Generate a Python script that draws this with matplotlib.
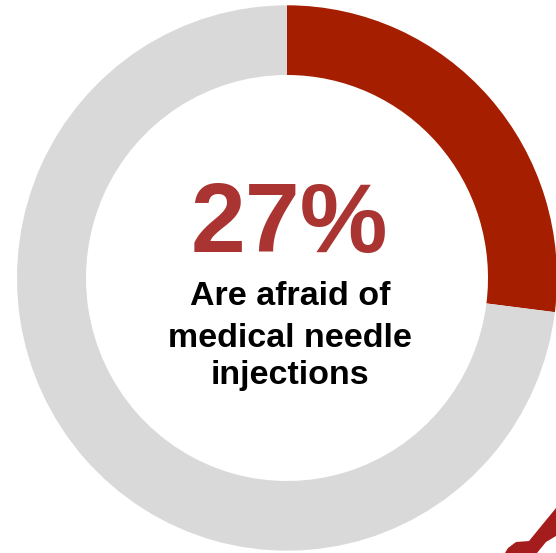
import matplotlib
matplotlib.use("Agg")
import matplotlib.pyplot as plt
from matplotlib.patches import Polygon

# Share of respondents
labels = ["Afraid", "Not afraid"]
values = [27, 73]
colors = ["#A51E00", "#D9D9D9"]

headline = "27%"
caption_lines = ["Are afraid of", "medical needle", "injections"]

W, H = 556, 553
STRETCH = 1.01  # ring is drawn very slightly taller than wide
fig = plt.figure(figsize=(W / 100, H / 100), dpi=100)
ax = fig.add_axes([0, 0, 1, 1])

ax.pie(values, colors=colors, startangle=90, counterclock=False,
       radius=270, center=(287, 275 / STRETCH),
       wedgeprops=dict(width=69, linewidth=0), frame=True)

ax.set_xlim(0, W)
ax.set_ylim(0, H / STRETCH)
ax.set_aspect("auto")
ax.axis("off")


def px(x, y):
    return x / W, y / H


font = "Liberation Sans"
fig.text(*px(289, 301), headline, ha="center", va="baseline", fontsize=71,
         fontweight="bold", color="#A93431", family=font)

baselines = [248, 206, 169]
for line, y in zip(caption_lines, baselines):
    fig.text(*px(290, y), line, ha="center", va="baseline", fontsize=24.5,
             fontweight="bold", color="black", family=font)

# decorative red mark in the lower-right corner
mark = [(556, 508), (529, 541), (516, 542), (508, 548), (505, 553),
        (537, 553), (546, 542), (556, 536)]
fig.patches.append(Polygon([px(x, H - y) for x, y in mark], closed=True,
                           transform=fig.transFigure, facecolor="#A51C1C",
                           edgecolor="none"))

fig.savefig("out.png", dpi=100)
